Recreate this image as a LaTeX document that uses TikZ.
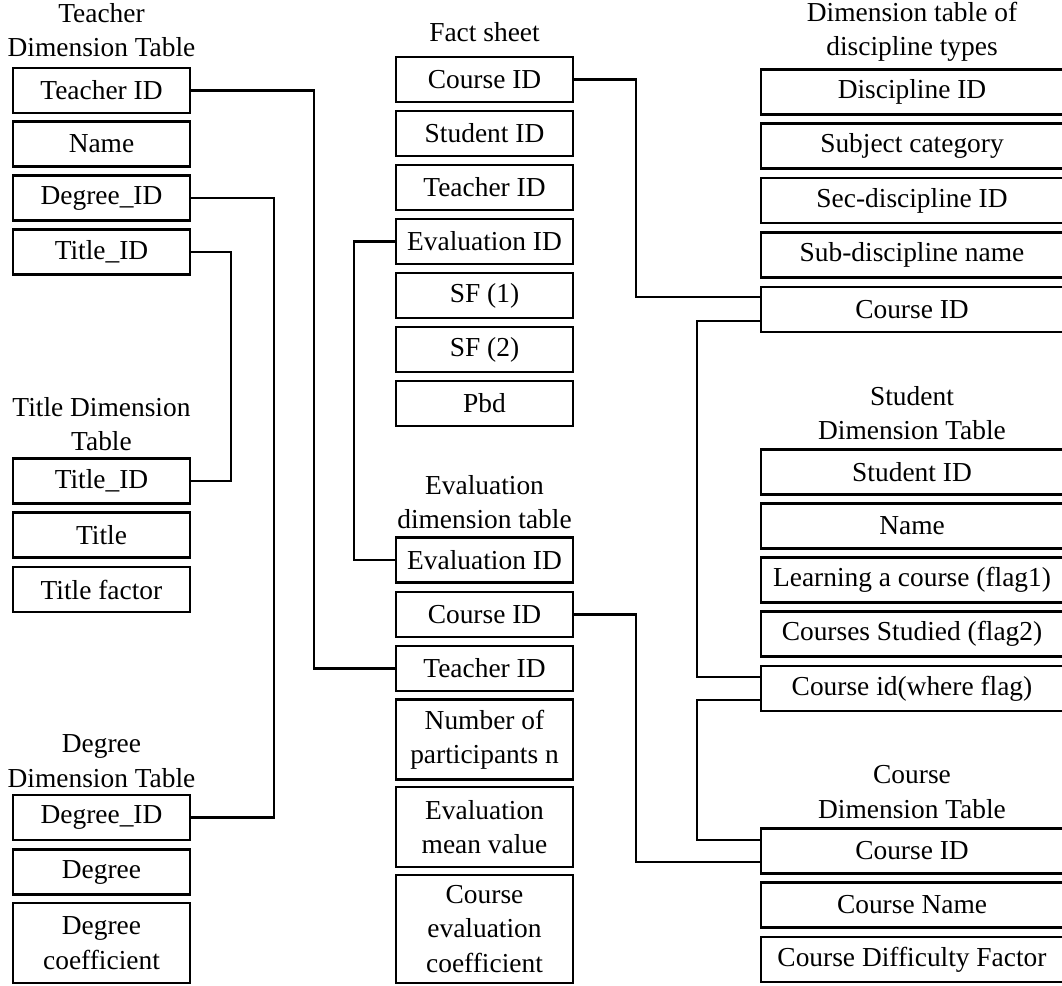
\documentclass[tikz,border=0pt]{standalone}
\usepackage{fontspec}
\setmainfont{Liberation Serif}
\tikzset{
  field/.style={draw,line width=1.5pt,minimum width=4.425cm,minimum height=1.125cm,inner sep=0pt,align=center},
  wfield/.style={field,minimum width=7.55cm},
  tablename/.style={align=center,inner sep=0pt},
  link/.style={line width=1.5pt}
}
\begin{document}
\begin{tikzpicture}[x=0.025cm,y=-0.025cm,font=\fontsize{19.5}{24.5}\selectfont]
\useasboundingbox (0,0) rectangle (1062,985);
\node[tablename] (teacher) at (101.5,30) {Teacher\\Dimension Table};
\node[field] (tTeacher) at (101.5,90.5) {Teacher ID};
\node[field] (tName) at (101.5,144) {Name};
\node[field] (tDegree) at (101.5,198) {Degree\_ID};
\node[field] (tTitle) at (101.5,252) {Title\_ID};
\node[tablename] (title) at (101.5,424) {Title Dimension\\Table};
\node[field] (ttTitleID) at (101.5,481) {Title\_ID};
\node[field] (ttTitle) at (101.5,535) {Title};
\node[field] (ttFactor) at (101.5,589.5) {Title factor};
\node[tablename] (degree) at (101.5,761) {Degree\\Dimension Table};
\node[field] (dDegreeID) at (101.5,817.5) {Degree\_ID};
\node[field] (dDegree) at (101.5,872) {Degree};
\node[field,minimum height=2cm] (dCoef) at (101.5,943) {Degree\\coefficient};
\node[tablename] (fact) at (484.5,32) {Fact sheet};
\node[field] (fCourse) at (484.5,79.5) {Course ID};
\node[field] (fStudent) at (484.5,133.5) {Student ID};
\node[field] (fTeacher) at (484.5,187.5) {Teacher ID};
\node[field] (fEval) at (484.5,241.5) {Evaluation ID};
\node[field] (fSFa) at (484.5,295.5) {SF (1)};
\node[field] (fSFb) at (484.5,349.5) {SF (2)};
\node[field] (fPbd) at (484.5,403.5) {Pbd};
\node[tablename] (evaluation) at (484.5,502) {Evaluation\\dimension table};
\node[field] (eEval) at (484.5,560) {Evaluation ID};
\node[field] (eCourse) at (484.5,614.5) {Course ID};
\node[field] (eTeacher) at (484.5,668.5) {Teacher ID};
\node[field,minimum height=2cm] (eNum) at (484.5,739.5) {Number of\\participants n};
\node[field,minimum height=2cm] (eMean) at (484.5,827) {Evaluation\\mean value};
\node[field,minimum height=2.7cm] (eCoef) at (484.5,929) {Course\\evaluation\\coefficient};
\node[tablename] (discipline) at (912,32) {Dimension table of\\discipline types};
\node[wfield] (dDiscipline) at (912,92) {Discipline ID};
\node[wfield] (dSubject) at (912,146) {Subject category};
\node[wfield] (dSec) at (912,200.5) {Sec-discipline ID};
\node[wfield] (dSub) at (912,255) {Sub-discipline name};
\node[wfield] (dCourse) at (912,309.5) {Course ID};
\node[tablename] (student) at (912,413) {Student\\Dimension Table};
\node[wfield] (sStudent) at (912,472) {Student ID};
\node[wfield] (sName) at (912,526) {Name};
\node[wfield] (sLearning) at (912,580) {Learning a course (flag1)};
\node[wfield] (sStudied) at (912,634) {Courses Studied (flag2)};
\node[wfield] (sFlag) at (912,688.5) {Course id(where flag)};
\node[tablename] (course) at (912,792) {Course\\Dimension Table};
\node[wfield] (cCourse) at (912,851) {Course ID};
\node[wfield] (cName) at (912,905) {Course Name};
\node[wfield] (cFactor) at (912,959.5) {Course Difficulty Factor};
\draw[link] (tTeacher.east) -- ++(123,0) |- (eTeacher.west);
\draw[link] (tDegree.east) -- ++(83,0) |- (dDegreeID.east);
\draw[link] (tTitle.east) -- ++(40,0) |- (ttTitleID.east);
\draw[link] (fCourse.east) -- ++(62,0) |- ([yshift=0.31cm]dCourse.west);
\draw[link] (fEval.west) -- ++(-41,0) |- (eEval.west);
\draw[link] (eCourse.east) -- ++(62,0) |- ([yshift=-0.28cm]cCourse.west);
\draw[link] ([yshift=-0.29cm]dCourse.west) -- ++(-63,0) |- ([yshift=0.29cm]sFlag.west);
\draw[link] ([yshift=-0.29cm]sFlag.west) -- ++(-63,0) |- ([yshift=0.28cm]cCourse.west);
\end{tikzpicture}
\end{document}
